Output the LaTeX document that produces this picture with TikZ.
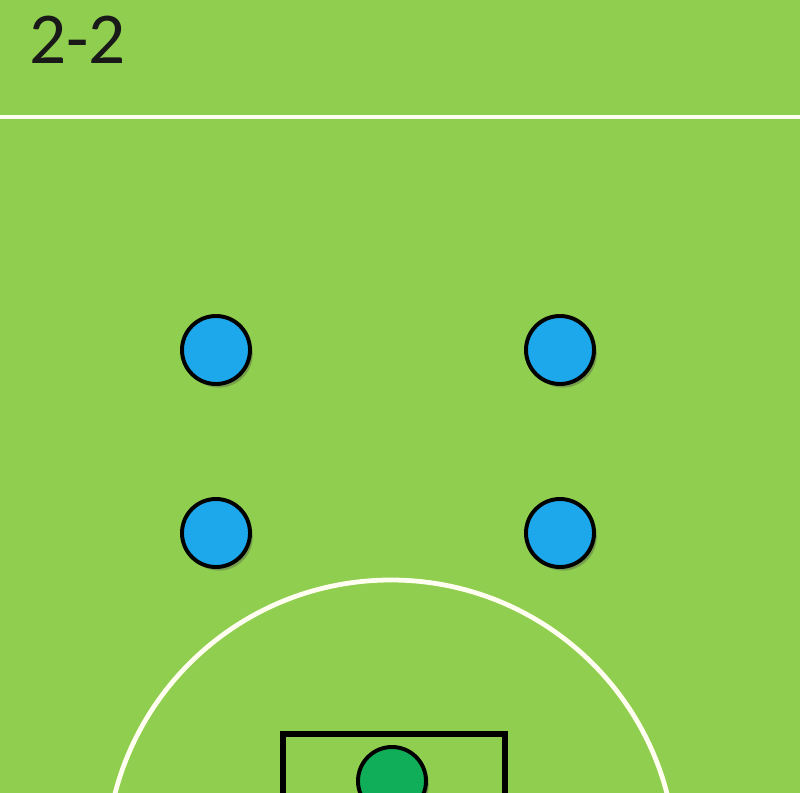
\documentclass[tikz,border=0pt]{standalone}
\usepackage{fontspec}
\setsansfont{Carlito}
\usepackage{tikz}
\usepackage{xcolor}
\usetikzlibrary{positioning, shadows}
\definecolor{pitch}{HTML}{8FCE4E}
\definecolor{outfield}{HTML}{1EA8EC}
\definecolor{keeper}{HTML}{10AE58}
\begin{document}
\begin{tikzpicture}[
        x=0.025cm, y=-0.025cm,
        player/.style={circle, draw=black, line width=2.8pt, minimum size=1.7cm, inner sep=0pt,
            drop shadow={shadow xshift=0.7mm, shadow yshift=-0.9mm, opacity=0.35, fill=black!70}},
        field/.style={fill=outfield},
        goalie/.style={fill=keeper},
        chalk/.style={draw=white!94!yellow, line width=3pt},
        title/.style={font=\sffamily\fontsize{52}{52}\selectfont, text=black!90, inner sep=0pt}
    ]
    \useasboundingbox (0,0) rectangle (800,793);
    \clip (0,0) rectangle (800,793);
    \fill[pitch] (0,0) rectangle (800,793);

    % formation name and halfway line
    \node (name) [title, anchor=base west] at (29,64) {2-2};
    \draw[chalk] (0,117) -- (800,117);

    % penalty arc and goal box
    \draw[chalk, line width=3.4pt] (391,865) circle (285);
    \draw[black, line width=3.6pt] (283,810) -- (283,734) -- (505,734) -- (505,810);

    % outfield players
    \node (LF) [player, field] at (216,350) {};
    \node (RF) [player, field] at (560,350) {};
    \node (LB) [player, field] at (216,533) {};
    \node (RB) [player, field] at (560,533) {};

    % goalkeeper
    \node (GK) [player, goalie] at (392,781) {};
\end{tikzpicture}
\end{document}
